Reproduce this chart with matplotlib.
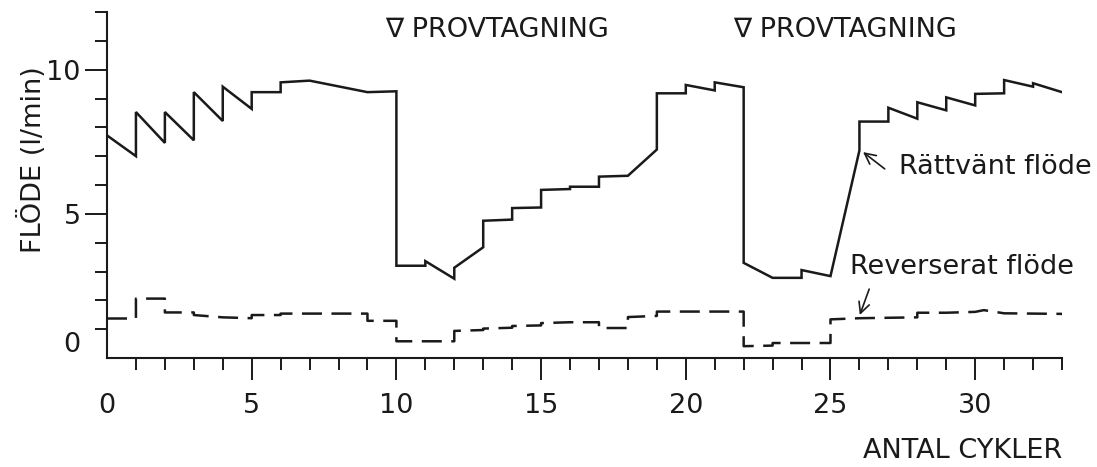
import matplotlib
matplotlib.use("Agg")
import matplotlib.pyplot as plt
from matplotlib.ticker import MultipleLocator, FixedLocator

# Rättvänt flöde (heldragen linje)
cykel_r = [0, 1, 1, 2, 2, 3, 3, 4, 4, 5, 5, 6, 6, 7, 9, 10, 10, 11, 11, 12, 12, 13, 13,
           14, 14, 15, 15, 16, 16, 17, 17, 18, 19, 19, 20, 20, 21, 21, 22, 22, 23, 24, 24,
           25, 26, 26, 27, 27, 28, 28, 29, 29, 30, 30, 31, 31, 32, 32, 33]
flode_r = [7.72, 7.0, 8.53, 7.46, 8.53, 7.55, 9.22, 8.22, 9.41, 8.64, 9.22, 9.22, 9.56, 9.62,
           9.22, 9.25, 3.2, 3.2, 3.36, 2.75, 3.13, 3.84, 4.76, 4.8, 5.2, 5.22, 5.83, 5.86, 5.94,
           5.94, 6.29, 6.32, 7.23, 9.18, 9.18, 9.47, 9.28, 9.56, 9.39, 3.3, 2.78, 2.78, 3.05,
           2.84, 7.2, 8.2, 8.2, 8.68, 8.3, 8.87, 8.59, 9.04, 8.76, 9.16, 9.18, 9.64, 9.41, 9.53,
           9.22]

# Reverserat flöde (streckad linje)
cykel_rev = [0, 1, 1, 2, 2, 3, 3, 4, 5, 5, 6, 6, 9, 9, 10, 10, 12, 12, 13, 13, 14, 14, 15, 15,
             16, 17, 17, 18, 18, 19, 19, 22, 22, 23, 23, 25, 25, 26, 28, 28, 29, 30, 30.3,
             31, 33]
flode_rev = [1.37, 1.37, 2.06, 2.06, 1.58, 1.58, 1.49, 1.41, 1.38, 1.49, 1.49, 1.54, 1.54, 1.29,
             1.29, 0.58, 0.58, 0.94, 0.97, 1.02, 1.05, 1.11, 1.13, 1.21, 1.24, 1.24, 1.04, 1.04,
             1.42, 1.46, 1.61, 1.61, 0.41, 0.43, 0.52, 0.52, 1.34, 1.38, 1.41, 1.57, 1.57, 1.6,
             1.66, 1.55, 1.53]

provtagning = [10, 22]

farg = "#1a1a1a"
plt.rcParams["font.family"] = ["DejaVu Sans"]
plt.rcParams["font.size"] = 19.5

fig = plt.figure(figsize=(10.97, 4.67), dpi=100)
ax = fig.add_axes([107 / 1097, 109 / 467, 955 / 1097, 346 / 467])

ax.plot(cykel_r, flode_r, color=farg, lw=1.8, solid_joinstyle="miter")
ax.plot(cykel_rev, flode_rev, color=farg, lw=1.8, linestyle=(0, (8, 3.8)))

ax.set_xlim(0, 33)
ax.set_ylim(0, 12)

for s in ["top", "right"]:
    ax.spines[s].set_visible(False)
for s in ["left", "bottom"]:
    ax.spines[s].set_linewidth(1.5)
    ax.spines[s].set_color(farg)

ax.xaxis.set_major_locator(FixedLocator([0, 5, 10, 15, 20, 25, 30]))
ax.xaxis.set_minor_locator(MultipleLocator(1))
ax.yaxis.set_major_locator(FixedLocator([0, 5, 10]))
ax.yaxis.set_minor_locator(MultipleLocator(1))
ax.tick_params(axis="both", which="major", length=16, width=1.4, color=farg, labelcolor=farg)
ax.tick_params(axis="both", which="minor", length=8.5, width=1.4, color=farg)
ax.tick_params(axis="x", which="major", pad=9)
ax.tick_params(axis="y", which="major", pad=3)

# ingen tick i origo
ax.xaxis.get_major_ticks()[0].tick1line.set_visible(False)
ax.yaxis.get_major_ticks()[0].tick1line.set_visible(False)
fig.canvas.draw()
ax.get_yticklabels()[0].set_verticalalignment("bottom")

ax.set_ylabel("FLÖDE (l/min)", color=farg)
ax.yaxis.set_label_coords(-0.063, 0.572)
ax.set_xlabel("ANTAL CYKLER", loc="right", color=farg, labelpad=14)

for c in provtagning:
    ax.annotate("\u2207 PROVTAGNING", xy=(c, 11.37), xytext=(-11, 0), textcoords="offset pixels",
                ha="left", va="center", color=farg, annotation_clip=False)

ax.text(27.37, 6.62, "Rättvänt flöde", ha="left", va="center", color=farg)
ax.annotate("", xy=(26.05, 7.2), xytext=(26.95, 6.5),
            arrowprops=dict(arrowstyle="->", color=farg, lw=1.2))
ax.text(25.67, 3.17, "Reverserat flöde", ha="left", va="center", color=farg)
ax.annotate("", xy=(25.98, 1.4), xytext=(26.37, 2.48),
            arrowprops=dict(arrowstyle="->", color=farg, lw=1.2))

fig.savefig("out.png", dpi=100)
